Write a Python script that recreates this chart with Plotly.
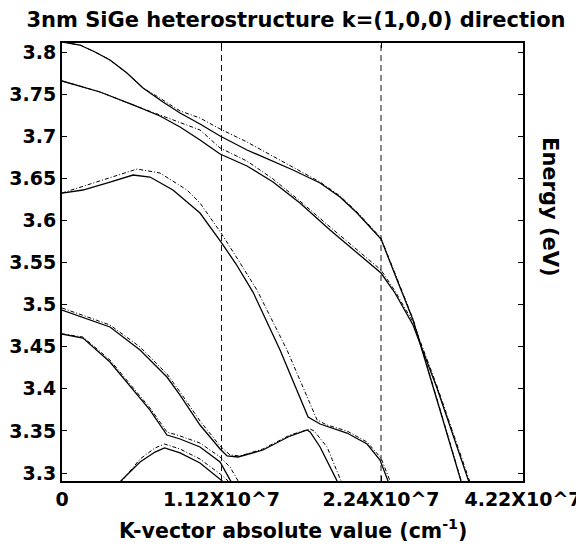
import plotly.graph_objects as go

# ---- data (k along path in units of 1e7 cm^-1 path coordinate, energy in eV) ----
xtick_vals = [0, 1.12, 2.24, 3.237]
xtick_text = ["0", "1.12X10^7", "2.24X10^7", "4.22X10^7"]
ytick_vals = [3.3, 3.35, 3.4, 3.45, 3.5, 3.55, 3.6, 3.65, 3.7, 3.75, 3.8]
ytick_text = ["3.3", "3.35", "3.4", "3.45", "3.5", "3.55", "3.6", "3.65", "3.7", "3.75", "3.8"]
boundaries = [1.12, 2.24]

A_k = [0, 0.126, 0.232, 0.337, 0.456, 0.569, 0.709, 0.829, 0.969, 1.110, 1.299, 1.622, 1.812, 1.952, 2.072, 2.240, 2.353, 2.465, 2.654, 2.802, 2.816]
A_e = [3.8119, 3.8083, 3.8, 3.7905, 3.775, 3.7572, 3.7406, 3.7276, 3.7145, 3.7002, 3.6836, 3.6599, 3.6444, 3.6278, 3.6088, 3.5779, 3.5292, 3.4817, 3.3748, 3.2907, 3.2822]
A2_k = [0, 0.126, 0.232, 0.337, 0.456, 0.569, 0.653, 0.709, 0.829, 0.969, 1.110, 1.299, 1.622, 1.812, 1.952, 2.072, 2.240, 2.353, 2.465, 2.654, 2.802, 2.816]
A2_e = [3.8119, 3.8083, 3.8, 3.7905, 3.775, 3.7572, 3.7489, 3.743, 3.73, 3.7216, 3.7086, 3.6931, 3.6634, 3.6456, 3.629, 3.61, 3.5791, 3.5304, 3.4829, 3.376, 3.2919, 3.2834]

B_k = [0, 0.267, 0.499, 0.688, 0.829, 0.969, 1.110, 1.299, 1.482, 1.671, 1.882, 2.072, 2.240, 2.338, 2.465, 2.633, 2.760, 2.858, 2.872]
B_e = [3.7656, 3.7525, 3.7371, 3.724, 3.7109, 3.6955, 3.6789, 3.6646, 3.6456, 3.6207, 3.5886, 3.5613, 3.5375, 3.5138, 3.4758, 3.401, 3.3392, 3.2907, 3.2822]
B2_k = [0, 0.267, 0.499, 0.688, 0.829, 0.969, 1.110, 1.299, 1.482, 1.671, 1.882, 2.072, 2.240, 2.338, 2.465, 2.633, 2.760, 2.865, 2.879]
B2_e = [3.7656, 3.7525, 3.7371, 3.7252, 3.7169, 3.7074, 3.686, 3.6705, 3.6492, 3.623, 3.5922, 3.5648, 3.5411, 3.5162, 3.4793, 3.4033, 3.3416, 3.2907, 3.2822]

C_k = [0, 0.147, 0.337, 0.499, 0.618, 0.779, 0.969, 1.117, 1.222, 1.341, 1.531, 1.728, 1.812, 2.001, 2.142, 2.233, 2.289, 2.303]
C_e = [3.6325, 3.6361, 3.6456, 3.6539, 3.6515, 3.6361, 3.6088, 3.5743, 3.5482, 3.5149, 3.4461, 3.3665, 3.3582, 3.3475, 3.3344, 3.3154, 3.2907, 3.2822]
C2_k = [0, 0.337, 0.527, 0.688, 0.878, 0.969, 1.117, 1.229, 1.369, 1.580, 1.791, 1.861, 2.001, 2.142, 2.240, 2.303, 2.317]
C2_e = [3.6325, 3.6504, 3.661, 3.6563, 3.6361, 3.6207, 3.585, 3.5553, 3.5173, 3.4461, 3.363, 3.357, 3.3499, 3.3368, 3.3178, 3.2907, 3.2822]

E_k = [0, 0.337, 0.548, 0.737, 0.829, 0.969, 1.110, 1.159, 1.236, 1.411, 1.601, 1.721, 1.742, 1.812, 1.931, 1.952]
E_e = [3.4936, 3.4734, 3.4461, 3.414, 3.3926, 3.357, 3.3285, 3.3202, 3.319, 3.3273, 3.3439, 3.3511, 3.3487, 3.3309, 3.2907, 3.2822]
E2_k = [0, 0.337, 0.548, 0.737, 0.829, 0.969, 1.110, 1.180, 1.250, 1.411, 1.601, 1.742, 1.770, 1.861, 1.959, 1.980]
E2_e = [3.496, 3.4758, 3.4497, 3.4176, 3.3962, 3.3618, 3.332, 3.3214, 3.3202, 3.3285, 3.3451, 3.3523, 3.3499, 3.3309, 3.2907, 3.2822]

F_k = [0, 0.147, 0.337, 0.499, 0.618, 0.737, 0.829, 0.969, 1.110, 1.180, 1.194, 1.215]
F_e = [3.4651, 3.4603, 3.4318, 3.3986, 3.3748, 3.3451, 3.3404, 3.3309, 3.3131, 3.2918, 3.2880, 3.2822]
F2_k = [0, 0.147, 0.337, 0.499, 0.618, 0.737, 0.829, 0.969, 1.110, 1.180, 1.236, 1.257]
F2_e = [3.4651, 3.4615, 3.4342, 3.401, 3.3772, 3.3487, 3.344, 3.3356, 3.319, 3.3071, 3.2907, 3.2822]

G_k = [0.400, 0.414, 0.548, 0.653, 0.720, 0.829, 0.969, 1.088, 1.124, 1.145]
G_e = [3.2834, 3.2907, 3.3131, 3.3249, 3.3297, 3.3238, 3.3119, 3.2953, 3.2907, 3.2834]
G2_k = [0.407, 0.421, 0.548, 0.653, 0.720, 0.829, 0.969, 1.110, 1.166, 1.187]
G2_e = [3.2834, 3.2907, 3.3166, 3.3297, 3.3344, 3.3285, 3.3166, 3.2989, 3.2907, 3.2834]

solid_curves = [(A_k, A_e), (B_k, B_e), (C_k, C_e), (E_k, E_e), (F_k, F_e), (G_k, G_e)]
dashdot_curves = [(A2_k, A2_e), (B2_k, B2_e), (C2_k, C2_e), (E2_k, E2_e), (F2_k, F2_e), (G2_k, G2_e)]

FONT = "DejaVu Sans"

fig = go.Figure()
for kx, ey in dashdot_curves:
    fig.add_trace(go.Scatter(x=kx, y=ey, mode="lines",
                             line=dict(color="black", width=1, dash="4px,2px,1px,2px"),
                             showlegend=False, hoverinfo="skip"))
for kx, ey in solid_curves:
    fig.add_trace(go.Scatter(x=kx, y=ey, mode="lines",
                             line=dict(color="black", width=1.3),
                             showlegend=False, hoverinfo="skip"))

for b in boundaries:
    fig.add_shape(type="line", xref="x", yref="paper", x0=b, x1=b, y0=0, y1=1,
                  line=dict(color="#111111", width=1, dash="6px,4px"), layer="below")

axis_common = dict(showgrid=False, zeroline=False, showline=True, linecolor="black",
                   linewidth=2, mirror="ticks", ticks="inside", ticklen=5,
                   tickcolor="black", tickwidth=1, automargin=False,
                   tickfont=dict(family=FONT, size=19, color="black", weight="bold"))

# the page body adds an 8px offset, so the figure is 576x538 inside the 584x546 window
W, H = 576, 538
fig.update_layout(
    width=W, height=H,
    margin=dict(l=54, r=61, t=35, b=65, autoexpand=False),
    paper_bgcolor="white", plot_bgcolor="white",
    title=dict(text="3nm SiGe heterostructure k=(1,0,0) direction",
               font=dict(family=FONT, size=21, color="black", weight="bold"),
               x=0.5, xanchor="center", y=1 - 12 / H, yanchor="middle"),
    xaxis=dict(range=[0, 3.237], tickmode="array", tickvals=xtick_vals, ticktext=xtick_text,
               **axis_common),
    yaxis=dict(range=[3.2905, 3.8107], tickmode="array", tickvals=ytick_vals, ticktext=ytick_text,
               **axis_common),
    annotations=[
        dict(text="K-vector absolute value (cm<sup>-1</sup>)", xref="paper", yref="paper",
             x=0.5, y=-0.11, xanchor="center", yanchor="middle", showarrow=False,
             font=dict(family=FONT, size=20.5, color="black", weight="bold")),
        dict(text="Energy (eV)", xref="paper", yref="paper", x=1.058, y=0.626,
             xanchor="center", yanchor="middle", textangle=90, showarrow=False,
             font=dict(family=FONT, size=21, color="black", weight="bold")),
    ],
)

fig.write_html("out.html")
